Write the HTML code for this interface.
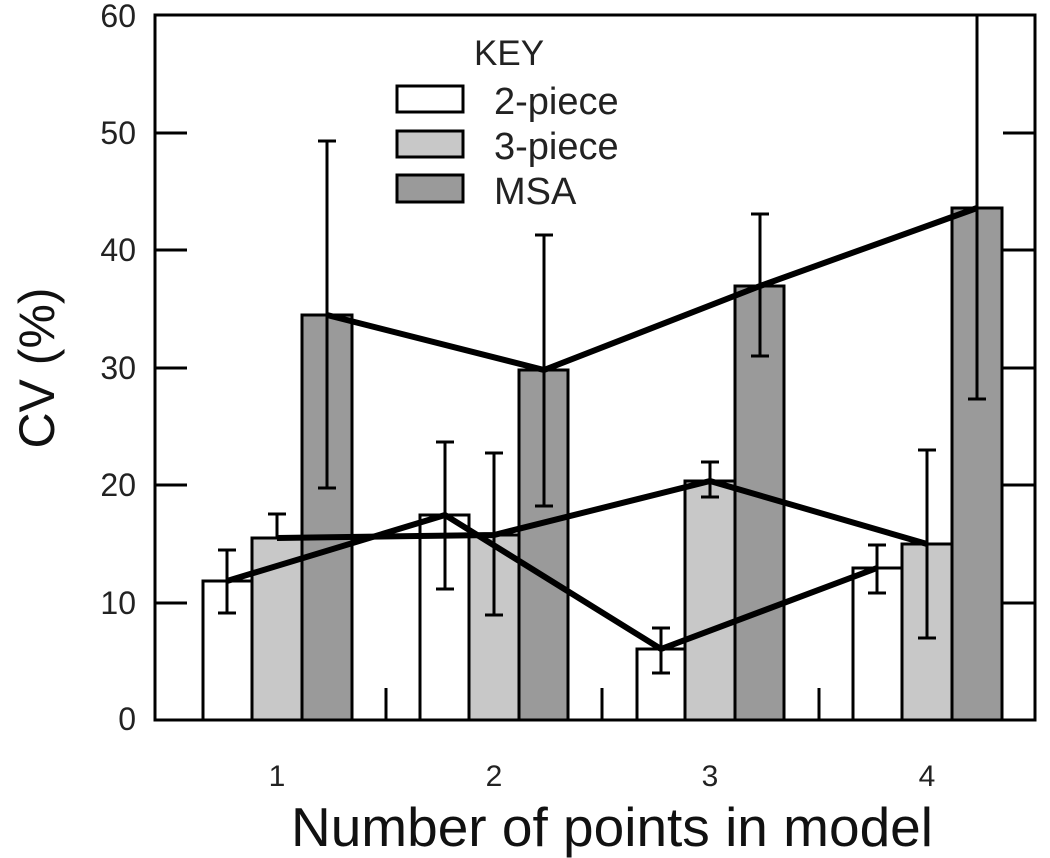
<!DOCTYPE html>
<html><head><style>body{margin:0;background:#fff}svg{display:block}</style></head><body>
<svg width="1050" height="858" viewBox="0 0 1050 858" xmlns="http://www.w3.org/2000/svg" font-family="Liberation Sans, sans-serif">
<rect width="1050" height="858" fill="#fff"/>
<g stroke="#000" stroke-width="3">
<rect x="203" y="581" width="49" height="139" fill="#fff"/>
<rect x="252" y="538" width="50" height="182" fill="#c8c8c8"/>
<rect x="302" y="315" width="50" height="405" fill="#9a9a9a"/>
<rect x="420" y="515" width="49" height="205" fill="#fff"/>
<rect x="469" y="535" width="50" height="185" fill="#c8c8c8"/>
<rect x="519" y="370" width="49" height="350" fill="#9a9a9a"/>
<rect x="637" y="649" width="48" height="71" fill="#fff"/>
<rect x="685" y="481" width="50" height="239" fill="#c8c8c8"/>
<rect x="735" y="286" width="49" height="434" fill="#9a9a9a"/>
<rect x="853" y="568" width="49" height="152" fill="#fff"/>
<rect x="902" y="544" width="50" height="176" fill="#c8c8c8"/>
<rect x="952" y="208" width="50" height="512" fill="#9a9a9a"/>
</g>
<g stroke="#000" stroke-width="3" fill="none">
<path d="M227 550V613M218 550H236M218 613H236"/>
<path d="M277 514V538M268 514H286"/>
<path d="M327 141V488M318 141H336M318 488H336"/>
<path d="M445 442V589M436 442H454M436 589H454"/>
<path d="M494 453V615M485 453H503M485 615H503"/>
<path d="M544 235V506M535 235H553M535 506H553"/>
<path d="M661 628V673M652 628H670M652 673H670"/>
<path d="M710 462V497M701 462H719M701 497H719"/>
<path d="M760 214V356M751 214H769M751 356H769"/>
<path d="M877 545V593M868 545H886M868 593H886"/>
<path d="M927 450V638M918 450H936M918 638H936"/>
<path d="M977 15V399M968 399H986"/>
</g>
<g stroke="#000" stroke-width="6" fill="none" stroke-linejoin="round">
<polyline points="227,581 445,515 661,649 877,568"/>
<polyline points="277,538 494,535 710,481 927,544"/>
<polyline points="327,315 544,370 760,286 977,208"/>
</g>
<rect x="155" y="15" width="880" height="705" fill="none" stroke="#000" stroke-width="3"/>
<g stroke="#000" stroke-width="3">
<path d="M155 603H187M155 485H187M155 368H187M155 250H187M155 133H187"/>
<path d="M1035 603H1003M1035 485H1003M1035 368H1003M1035 250H1003M1035 133H1003"/>
<path d="M386 720V688M602 720V688M819 720V688"/>
</g>
<g font-size="32" fill="#222" text-anchor="end">
<text x="136" y="730">0</text>
<text x="136" y="614">10</text>
<text x="136" y="496">20</text>
<text x="136" y="379">30</text>
<text x="136" y="261">40</text>
<text x="136" y="144">50</text>
<text x="136" y="27">60</text>
</g>
<g font-size="30" fill="#222" text-anchor="middle">
<text x="277" y="786">1</text>
<text x="494" y="786">2</text>
<text x="710" y="786">3</text>
<text x="927" y="786">4</text>
</g>
<text x="612" y="846" font-size="55" text-anchor="middle" fill="#111">Number of points in model</text>
<text transform="translate(54,368) rotate(-90)" font-size="50" text-anchor="middle" fill="#111">CV (%)</text>
<text x="474" y="65" font-size="35" fill="#222">KEY</text>
<g stroke="#000" stroke-width="3">
<rect x="397" y="86" width="66" height="26" fill="#fff"/>
<rect x="397" y="131" width="66" height="26" fill="#c8c8c8"/>
<rect x="397" y="175" width="66" height="27" fill="#9a9a9a"/>
</g>
<g font-size="38" fill="#222">
<text x="494" y="114">2-piece</text>
<text x="494" y="159">3-piece</text>
<text x="494" y="204">MSA</text>
</g>
</svg>
</body></html>
